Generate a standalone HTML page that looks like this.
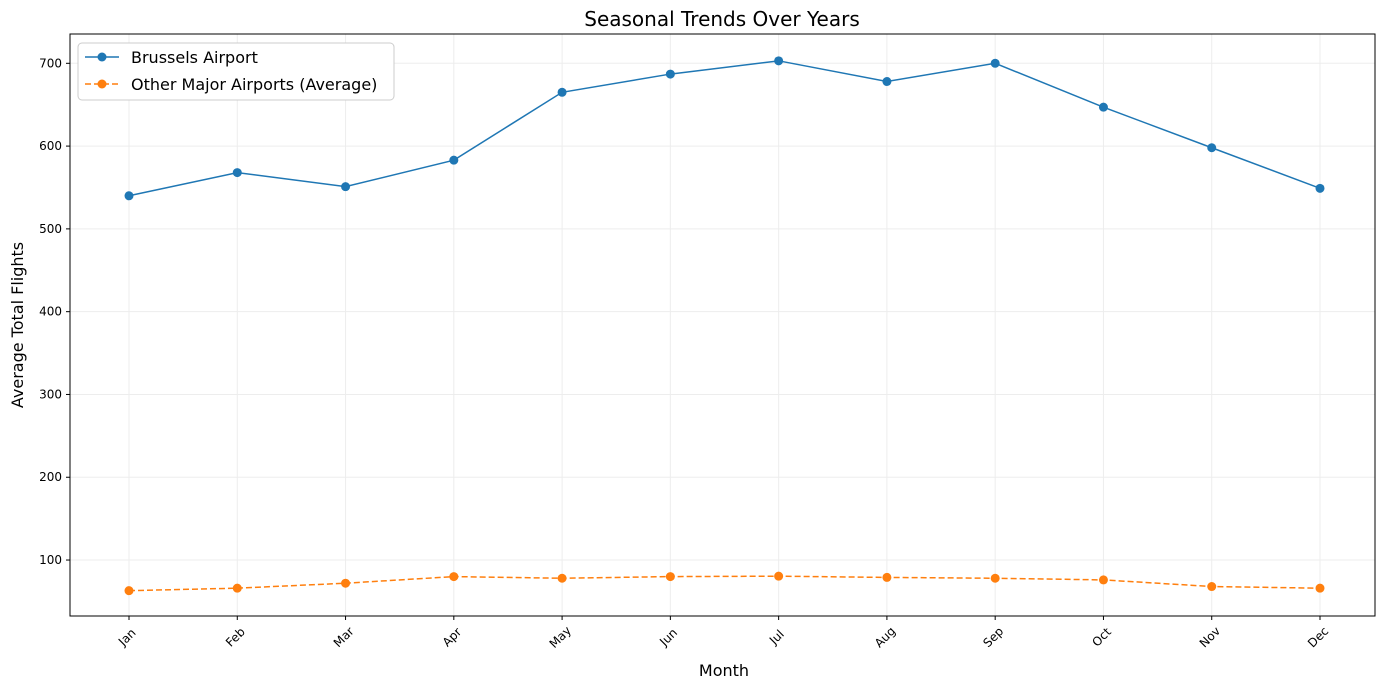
<!DOCTYPE html>
<html><head><meta charset="utf-8"><style>
body{margin:0;background:#fff;font-family:"Liberation Sans","DejaVu Sans",sans-serif}
svg text{font-family:"DejaVu Sans","Liberation Sans",sans-serif}
</style></head><body>
<svg id="chart" width="1389" height="690">
<text x="722" y="26" font-size="20" text-anchor="middle">Seasonal Trends Over Years</text>
<text x="724" y="676" font-size="16" text-anchor="middle">Month</text>
<text transform="translate(23,325) rotate(-90)" font-size="16" text-anchor="middle">Average Total Flights</text>
<g id="grid"></g><g id="axes"></g><g id="marks"></g>
<g>
<rect x="78" y="43" width="316" height="57" rx="4" fill="#fff" stroke="#ccc"/>
<line x1="85" y1="57" x2="119" y2="57" stroke="#1f77b4" stroke-width="1.5"/><circle cx="102" cy="57" r="4.5" fill="#1f77b4"/>
<text x="131" y="63" font-size="16">Brussels Airport</text>
<line x1="85" y1="84" x2="119" y2="84" stroke="#ff7f0e" stroke-width="1.5" stroke-dasharray="6,3"/><circle cx="102" cy="84" r="4.5" fill="#ff7f0e"/>
<text x="131" y="90" font-size="16">Other Major Airports (Average)</text>
</g>
</svg>
<script>
const months=["Jan","Feb","Mar","Apr","May","Jun","Jul","Aug","Sep","Oct","Nov","Dec"];
const brussels=[540,568,551,583,665,687,703,678,700,647,598,549];
const others=[63,66,72,80,78,80,80.5,79,78,76,68,66];
const yTicks=[100,200,300,400,500,600,700];
const L=70,R=1375,T=34,B=616,yMin=32.4,yMax=735.4;
const xs=i=>129+i*(1320-129)/(months.length-1);
const ys=v=>B-(v-yMin)/(yMax-yMin)*(B-T);
const NS="http://www.w3.org/2000/svg";
function mk(p,t,a){const e=document.createElementNS(NS,t);for(const k in a)e.setAttribute(k,a[k]);p.appendChild(e);return e;}
const grid=document.getElementById('grid'),axes=document.getElementById('axes'),marks=document.getElementById('marks');
yTicks.forEach(v=>{const y=ys(v);
mk(grid,'line',{x1:L,x2:R,y1:y,y2:y,stroke:'#ededed','stroke-width':1});
mk(axes,'line',{x1:L-4,x2:L,y1:y,y2:y,stroke:'#000'});
const t=mk(axes,'text',{x:L-8,y:y+4,'font-size':12,'text-anchor':'end'});t.textContent=v;

});
months.forEach((m,i)=>{const x=xs(i);
mk(grid,'line',{x1:x,x2:x,y1:T,y2:B,stroke:'#ededed','stroke-width':1});
mk(axes,'line',{x1:x,x2:x,y1:B,y2:B+4,stroke:'#000'});
const t=mk(axes,'text',{transform:`translate(${x+1},${B+24}) rotate(-45)`,'font-size':12,'text-anchor':'middle'});t.textContent=m;

});
const frame=mk(axes,'rect',{x:L,y:T,width:R-L,height:B-T,fill:'none',stroke:'#000'});


function series(vals,color,dash,name){
const pl=mk(marks,'polyline',{points:vals.map((v,i)=>xs(i)+','+ys(v)).join(' '),fill:'none',stroke:color,'stroke-width':1.5,'stroke-dasharray':dash});


vals.forEach((v,i)=>{const c=mk(marks,'circle',{cx:xs(i),cy:ys(v),r:4.5,fill:color});

});}
series(brussels,'#1f77b4','none','brussels');
series(others,'#ff7f0e','6,3','other-airports');
</script>
</body></html>
